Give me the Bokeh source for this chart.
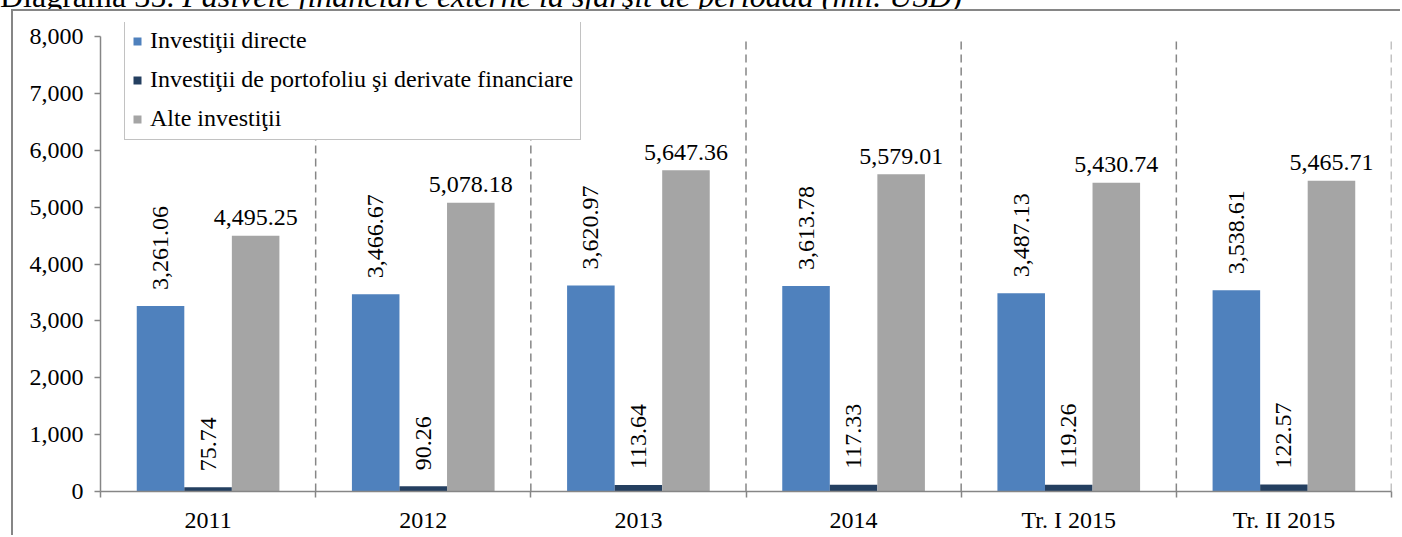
import numpy as np
from bokeh.plotting import figure
from bokeh.layouts import column
from bokeh.models import (ColumnDataSource, FixedTicker, Legend, LegendItem,
                          NumeralTickFormatter, Range1d, Div)
from bokeh.embed import file_html
from bokeh.resources import INLINE
from bokeh.core.properties import value

# ---------------- data ----------------
categories = ["2011", "2012", "2013", "2014", "Tr. I 2015", "Tr. II 2015"]
directe = [3261.06, 3466.67, 3620.97, 3613.78, 3487.13, 3538.61]
portofoliu = [75.74, 90.26, 113.64, 117.33, 119.26, 122.57]
alte = [4495.25, 5078.18, 5647.36, 5579.01, 5430.74, 5465.71]
series_names = ["Investiţii directe",
                "Investiţii de portofoliu şi derivate financiare",
                "Alte investiţii"]
y_ticks = [0, 1000, 2000, 3000, 4000, 5000, 6000, 7000, 8000]
title_plain = "Diagrama 35."
title_italic = "Pasivele financiare externe la sfârşit de perioadă (mil. USD)"

colors = ["#4F81BD", "#243F60", "#A5A5A5"]
FONT = "Liberation Serif"
FS = "24px"
GRAY = "#868686"

n = len(categories)
centers = np.arange(n) + 0.5
bw = 0.221
offsets = [-bw, 0.0, bw]

# frame: 469 px tall, the 0..8000 axis uses the lower 455 px (legend sits above the axis top)
y_top = y_ticks[-1] * 469.0 / 455.0

p = figure(width=1389, height=526, x_range=Range1d(0, n), y_range=Range1d(0, y_top),
           output_backend="svg", toolbar_location=None,
           min_border_left=87, min_border_right=11, min_border_top=11, min_border_bottom=46)
p.outline_line_color = None
p.background_fill_color = "white"
p.border_fill_color = "white"
p.styles = {"margin-left": "11px",
            "border-left": f"2px solid {GRAY}", "border-top": f"2px solid {GRAY}"}

def fmt(v):
    return f"{v:,.2f}"

# dashed category separators (from 0 to the top tick)
bounds_x = list(range(1, n + 1))
p.segment(x0=bounds_x, x1=bounds_x, y0=[y_ticks[0]] * n, y1=[y_ticks[-1]] * n,
          line_color=GRAY, line_width=1.5, line_dash="8 5")

renderers = []
for vals, off, col in zip([directe, portofoliu, alte], offsets, colors):
    src = ColumnDataSource(dict(x=centers + off, top=vals, lab=[fmt(v) for v in vals]))
    r = p.vbar(x="x", top="top", width=bw, source=src, fill_color=col, line_color=None)
    renderers.append((r, src))

for (r, src) in renderers[:2]:
    p.text(x="x", y="top", text="lab", source=src, angle=np.pi / 2,
           text_align="left", text_baseline="middle", y_offset=-16,
           text_font=value(FONT), text_font_size=FS, text_color="black")
r3, src3 = renderers[2]
p.text(x="x", y="top", text="lab", source=src3, text_align="center",
       text_baseline="alphabetic", y_offset=-18,
       text_font=value(FONT), text_font_size=FS, text_color="black")

# ---------------- axes ----------------
xt = FixedTicker(ticks=list(centers), minor_ticks=list(range(n + 1)))
p.xaxis.ticker = xt
p.xaxis.major_label_overrides = {float(c): lab for c, lab in zip(centers, categories)}
p.xaxis.major_tick_out = 0
p.xaxis.major_tick_in = 0
p.xaxis.minor_tick_out = 6
p.xaxis.minor_tick_in = 0
p.xaxis.minor_tick_line_color = GRAY
p.xaxis.minor_tick_line_width = 1.5
p.xaxis.axis_line_color = GRAY
p.xaxis.axis_line_width = 1.5
p.xaxis.major_label_standoff = 9
p.xaxis.major_label_text_font = FONT
p.xaxis.major_label_text_font_size = FS
p.xaxis.major_label_text_color = "black"

p.yaxis.ticker = FixedTicker(ticks=y_ticks, minor_ticks=[])
p.yaxis.bounds = (y_ticks[0], y_ticks[-1])
p.yaxis.formatter = NumeralTickFormatter(format="0,0")
p.yaxis.major_tick_out = 6
p.yaxis.major_tick_in = 0
p.yaxis.major_tick_line_color = GRAY
p.yaxis.major_tick_line_width = 1.5
p.yaxis.minor_tick_line_color = None
p.yaxis.axis_line_color = GRAY
p.yaxis.axis_line_width = 1.5
p.yaxis.major_label_standoff = 11
p.yaxis.major_label_text_font = FONT
p.yaxis.major_label_text_font_size = FS
p.yaxis.major_label_text_color = "black"

p.ygrid.visible = False
p.xgrid.visible = False

# ---------------- legend ----------------
legend = Legend(items=[LegendItem(label=nm, renderers=[r]) for nm, (r, _) in zip(series_names, renderers)],
                location=(24, 351), orientation="vertical",
                label_text_font=FONT, label_text_font_size=FS, label_text_color="black",
                glyph_width=10, glyph_height=10, label_standoff=8,
                spacing=12, padding=7, margin=0,
                border_line_color=GRAY, border_line_width=1.5,
                background_fill_color="white", background_fill_alpha=1)
p.add_layout(legend)

# ---------------- chart title (cut off by the top edge, as in the original) ----------------
title_html = (f'<div style="position:relative; top:-20px; white-space:nowrap; '
              f'font-family:\'{FONT}\'; font-size:32px; line-height:32px; color:black;">'
              f'{title_plain} <i>{title_italic}</i></div>')
title_div = Div(text=title_html, width=1402, height=9,
                styles={"overflow": "hidden", "margin": "0", "padding": "0"})

layout = column(title_div, p, spacing=0)

open("out.html", "w").write(file_html(layout, INLINE))
